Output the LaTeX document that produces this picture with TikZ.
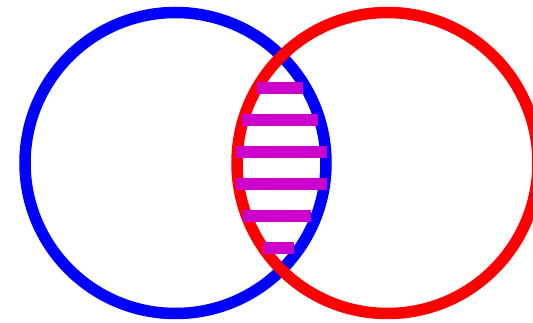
\documentclass[tikz,border=0pt]{standalone}
\definecolor{barmagenta}{RGB}{204,0,204}
\begin{document}
\begin{tikzpicture}[x=1pt,y=-1pt]
  \useasboundingbox (0,0) rectangle (533,323);
  \draw[blue,line width=11.5pt] (175.5,163) circle (150.5pt);
  \draw[red,line width=11.5pt] (387.5,163) circle (150.5pt);
  \foreach \y/\lx/\rx in {88/257/303, 120/242/318, 152/236/327,
                          184/236/327, 216/243/311, 248/263/294} {
    \draw[barmagenta,line width=12.7pt] (\lx,\y) -- (\rx,\y);
  }
\end{tikzpicture}
\end{document}
